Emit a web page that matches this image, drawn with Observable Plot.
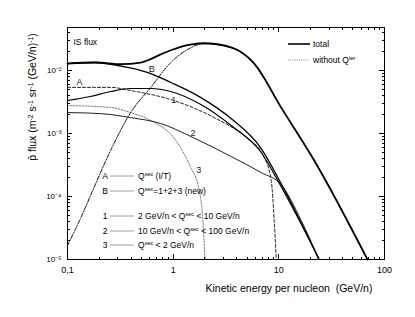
<!DOCTYPE html>
<html><head><meta charset="utf-8">
<script src="https://cdn.jsdelivr.net/npm/d3@7"></script>
<script src="https://cdn.jsdelivr.net/npm/@observablehq/plot@0.6"></script>
<style>body{margin:0;background:#fff}</style>
</head><body><div id="chart"></div>
<script>
// ---- data ----
const totalE = [0.1, 0.185, 0.319, 0.493, 0.614, 0.764, 0.95, 1.18, 1.5, 1.96, 3.53, 5.83, 10.5, 21.7, 69];
const totalF = [0.0129, 0.0134, 0.0126, 0.0134, 0.0152, 0.018, 0.021, 0.0238, 0.026, 0.0271, 0.0233, 0.0130, 0.0026, 0.00037, 0.00001];

const withoutE = [0.1, 0.133, 0.173, 0.256, 0.396, 0.614, 0.95, 1.32, 1.96, 3.53, 5.83, 10.5, 21.7, 69];
const withoutF = [1.67e-5, 4.5e-5, 1.24e-4, 5.4e-4, 2.15e-3, 5.4e-3, 0.0134, 0.0208, 0.0266, 0.0231, 0.0128, 0.0026, 0.00037, 1e-5];

const bE = [0.1, 0.177, 0.371, 0.614, 0.95, 1.83, 3.53, 6.81, 10.5, 23.7];
const bF = [0.0129, 0.0134, 0.0112, 8.96e-3, 6.46e-3, 3.72e-3, 1.73e-3, 5.78e-4, 1.61e-4, 1.04e-5];

const aE = [0.1, 0.165, 0.256, 0.396, 0.614, 0.95, 1.83, 3.53, 6.81, 10.5, 24.2];
const aF = [3.34e-3, 3.87e-3, 4.64e-3, 5.18e-3, 5.18e-3, 4.64e-3, 2.88e-3, 1.34e-3, 5.0e-4, 1.44e-4, 1e-5];

const c1E = [0.1, 0.256, 0.396, 1.015, 2.54, 4.90, 7.11, 8.47, 9.04, 9.45];
const c1F = [5.4e-3, 5.4e-3, 4.81e-3, 3.34e-3, 1.73e-3, 8.65e-4, 4.48e-4, 1.80e-4, 4.16e-5, 1e-5];

const c2E = [0.1, 0.206, 0.396, 0.764, 1.54, 3.53, 6.81, 10.5, 16.3, 23.7];
const c2F = [2.15e-3, 2.07e-3, 1.79e-3, 1.44e-3, 8.65e-4, 4.32e-4, 2.40e-4, 1.55e-4, 4.16e-5, 1.04e-5];

const c3E = [0.1, 0.256, 0.396, 0.614, 1.06, 1.47, 1.75, 1.91, 2.0];
const c3F = [2.78e-3, 2.59e-3, 2.15e-3, 1.61e-3, 7.74e-4, 2.88e-4, 1.34e-4, 4.16e-5, 1e-5];

const annotText = ["A", "B", "1", "2", "3"];
const annotE = [0.130, 0.628, 1.015, 1.54, 1.75];
const annotF = [6.46e-3, 0.0104, 3.34e-3, 1.0e-3, 2.59e-4];

const xMajor = [0.1, 1, 10, 100];
const xMajorLabels = ["0,1", "1", "10", "100"];
const yMajor = [1e-5, 1e-4, 1e-3, 1e-2];
const yMajorLabels = ["10\u207B\u2075", "10\u207B\u2074", "10\u207B\u00B3", "10\u207B\u00B2"];
const mult = [2, 3, 4, 5, 6, 7, 8, 9];
const xMinor = [0.1, 1, 10].flatMap(d => mult.map(m => d * m));
const yMinor = [1e-5, 1e-4, 1e-3, 1e-2].flatMap(d => mult.map(m => d * m)).filter(v => v < 0.048);

const series = (E, F) => E.map((e, i) => ({E: e, F: F[i]}));

const FONT = "'Liberation Sans', Arial, sans-serif";
const lineOpts = {x: "E", y: "F", curve: "monotone-x"};
const W = 415, H = 317, ML = 67, MR = 31, MT = 27, MB = 58;
const xDomain = [0.1, 100], yDomain = [1e-5, 0.0482];

const chart = Plot.plot({
  width: W, height: H,
  marginLeft: ML, marginRight: MR, marginTop: MT, marginBottom: MB,
  style: {fontFamily: FONT, fontSize: "9px", background: "white", color: "#000"},
  x: {type: "log", domain: xDomain},
  y: {type: "log", domain: yDomain},
  marks: [
    Plot.axisX({anchor: "bottom", ticks: xMajor, tickSize: 0, tickPadding: 7, tickFormat: d => xMajorLabels[xMajor.indexOf(d)], label: null, fontSize: 9}),
    Plot.axisY({anchor: "left", ticks: yMajor, tickSize: 0, tickPadding: 6, tickFormat: d => yMajorLabels[yMajor.indexOf(d)], label: null, fontSize: 8}),
    Plot.line(series(c3E, c3F), {...lineOpts, stroke: "#666", strokeWidth: 0.9, strokeDasharray: "1.5,1.5"}),
    Plot.line(series(c2E, c2F), {...lineOpts, stroke: "#222", strokeWidth: 1}),
    Plot.line(series(c1E, c1F), {...lineOpts, stroke: "#222", strokeWidth: 1, strokeDasharray: "3,2"}),
    Plot.line(series(aE, aF), {...lineOpts, stroke: "#000", strokeWidth: 1.2}),
    Plot.line(series(bE, bF), {...lineOpts, stroke: "#000", strokeWidth: 1.3}),
    Plot.line(series(withoutE, withoutF), {...lineOpts, stroke: "#111", strokeWidth: 1, strokeDasharray: "4,1.5,1,1.5"}),
    Plot.line(series(totalE, totalF), {...lineOpts, stroke: "#000", strokeWidth: 1.8}),
    Plot.text(annotText, {x: (d, i) => annotE[i], y: (d, i) => annotF[i], text: d => d, fontSize: 9, fill: "#222"}),
    Plot.text(["IS flux"], {frameAnchor: "top-left", dx: 6, dy: 11, textAnchor: "start", fontSize: 8.5}),
    Plot.frame({stroke: "#000", strokeWidth: 1})
  ]
});

document.getElementById("chart").appendChild(chart);

const svg = d3.select(chart);
const g = svg.append("g");

// inward tick marks on all four sides (same mapping as the plot's scales)
const sx = d3.scaleLog(xDomain, [ML, W - MR]);
const sy = d3.scaleLog(yDomain, [H - MB, MT]);
const tk = g.append("g").attr("stroke", "#000").attr("stroke-width", 1).attr("shape-rendering", "crispEdges");
for (const [vals, len] of [[xMajor, 5], [xMinor, 2.5]]) {
  for (const v of vals) {
    const x = Math.round(sx(v)) + 0.5;
    tk.append("line").attr("x1", x).attr("x2", x).attr("y1", H - MB).attr("y2", H - MB - len);
    tk.append("line").attr("x1", x).attr("x2", x).attr("y1", MT).attr("y2", MT + len);
  }
}
for (const [vals, len] of [[yMajor, 5], [yMinor, 2.5]]) {
  for (const v of vals) {
    const y = Math.round(sy(v)) + 0.5;
    tk.append("line").attr("y1", y).attr("y2", y).attr("x1", ML).attr("x2", ML + len);
    tk.append("line").attr("y1", y).attr("y2", y).attr("x1", W - MR).attr("x2", W - MR - len);
  }
}

function richText(g, x, y, parts, opts = {}) {
  const t = g.append("text").attr("x", x).attr("y", y)
    .attr("font-family", FONT).attr("font-size", opts.size || 8.5)
    .attr("fill", opts.fill || "#000")
    .attr("text-anchor", opts.anchor || "start");
  if (opts.rotate) t.attr("transform", `rotate(${opts.rotate},${x},${y})`);
  for (const p of parts) {
    if (typeof p === "string") t.append("tspan").text(p);
    else t.append("tspan").attr("baseline-shift", "super").attr("font-size", (opts.size || 8.5) * 0.65).text(p.sup);
  }
  return t;
}

// axis titles
richText(g, 289, 292, ["Kinetic energy per nucleon  (GeV/n)"], {size: 10.5, anchor: "middle"});
richText(g, 36, 97, ["p\u0304 flux (m", {sup: "-2"}, " s", {sup: "-1"}, " sr", {sup: "-1"}, " (GeV/n)", {sup: "-1"}, ")"], {size: 10.5, anchor: "middle", rotate: -90});

// top-right legend
g.append("line").attr("x1", 288).attr("x2", 310).attr("y1", 44).attr("y2", 44).attr("stroke", "#000").attr("stroke-width", 1.6);
richText(g, 313, 47, ["total"], {size: 8.5});
g.append("line").attr("x1", 288).attr("x2", 310).attr("y1", 60).attr("y2", 60).attr("stroke", "#777").attr("stroke-width", 0.9).attr("stroke-dasharray", "1,1.2");
richText(g, 313, 63, ["without Q", {sup: "ter"}], {size: 8.5});

// bottom-left legend
const legRows = [
  {k: "A", y: 176, parts: ["Q", {sup: "sec"}, " (I/T)"]},
  {k: "B", y: 191, parts: ["Q", {sup: "sec"}, "=1+2+3 (new)"]},
  {k: "1", y: 216, parts: ["2 GeV/n < Q", {sup: "sec"}, " < 10 GeV/n"]},
  {k: "2", y: 231, parts: ["10 GeV/n < Q", {sup: "sec"}, " < 100 GeV/n"]},
  {k: "3", y: 245, parts: ["Q", {sup: "sec"}, " < 2 GeV/n"]}
];
for (const r of legRows) {
  richText(g, 105, r.y + 3, [r.k], {size: 8.5, anchor: "middle"});
  g.append("line").attr("x1", 110).attr("x2", 134).attr("y1", r.y).attr("y2", r.y).attr("stroke", "#888").attr("stroke-width", 0.8);
  richText(g, 138, r.y + 3, r.parts, {size: 8.5});
}
</script>
</body></html>
